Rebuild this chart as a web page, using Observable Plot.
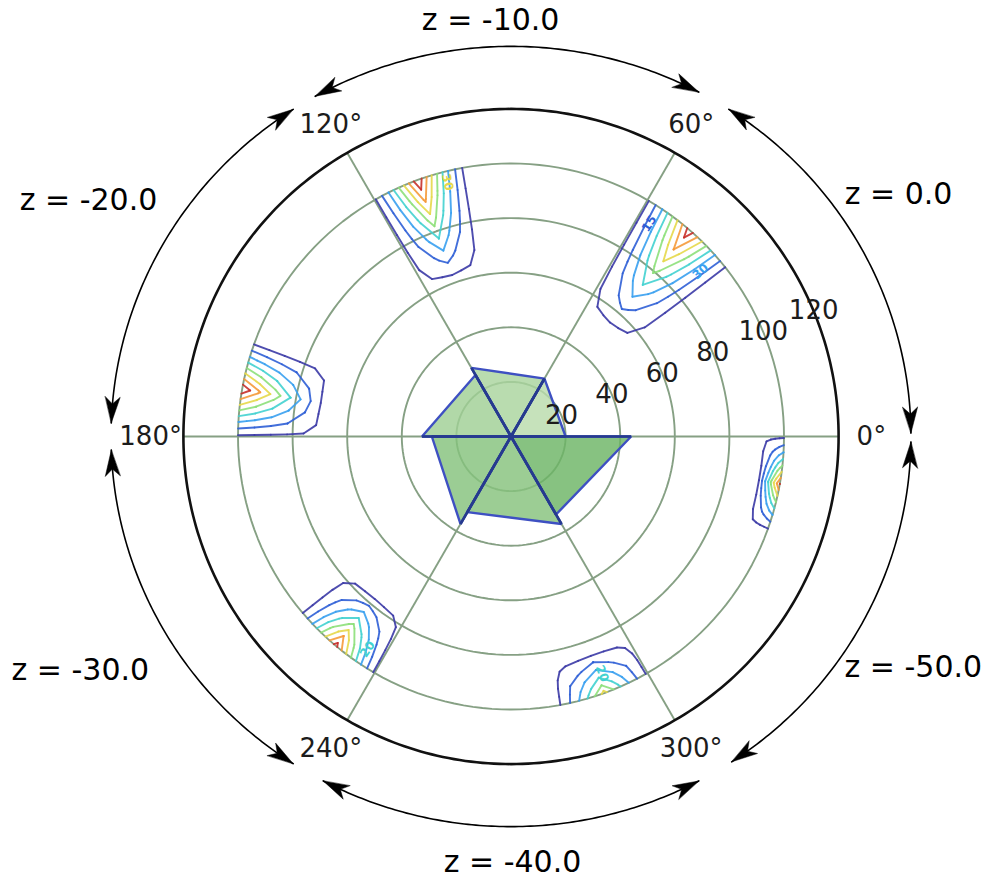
<!DOCTYPE html>
<html><head><meta charset="utf-8">
<script src="https://cdn.jsdelivr.net/npm/d3@7"></script>
<script src="https://cdn.jsdelivr.net/npm/@observablehq/plot@0.6"></script>
<style>
html,body{margin:0;padding:0;background:#fff;}
#chart{position:absolute;left:0;top:0;}
</style>
</head><body><div id="chart"></div>
<script>
// ---------------- data ----------------
const ringValues = [20, 40, 60, 80, 100];
const rMax = 120;
const thetaTicks = [0, 60, 120, 180, 240, 300];
const thetaTickLabels = ["0°", "60°", "120°", "180°", "240°", "300°"];
const rTickValues = [20, 40, 60, 80, 100, 120];
const rTickLabels = ["20", "40", "60", "80", "100", "120"];
const rLabelAngle = 22.5;
const thetaLabelRadius = 132;

// central filled sectors (triangles): radius at start / end angle of each 60° sector
const sectorStart = [0, 60, 120, 180, 240, 300];
const sectorRStart = [20, 24.5, 26, 29, 32, 33];
const sectorREnd = [24.5, 29, 32.6, 37, 37, 44];
const sectorFill = ["#b9dcac", "#a9d49e", "#a0d095", "#85c27c", "#86c27d", "#6db565"];

// z annotations around the plot
const zLabels = ["z = 0.0", "z = -10.0", "z = -20.0", "z = -30.0", "z = -40.0", "z = -50.0"];
const zLabelAngle = [32, 92.8, 150.8, 208.5, 270.2, 330.1];
const zLabelRadius = [167.4, 152.6, 177.3, 179.5, 156, 170];
const arcStart = [0.5, 62, 123, 182, 242, 303.5];
const arcEnd = [57, 119.3, 178, 237, 298, 359.2];
const arcRx = 146.5, arcRy = 142.9;

// contour panels (value grids: rows inner→outer radius, columns along theta)
const contourLevels = [5, 10, 15, 20, 25, 30, 35, 40];
const contourColors = ["#3b3aa6", "#2f5fd6", "#38a0f0", "#42d2d0", "#8de07a", "#e6d84a", "#f59a3a", "#c8302a"];
const panelTheta = [[38, 60], [100, 120], [160, 180], [340, 360], [220, 240], [280, 300]];
const panelR = [[54, 100], [62, 100], [70, 100], [92, 100], [77, 100], [85, 100]];
const panelGrids = [
  [[4,4,4,4,4,4,4],[4,7,9,11,9,7,4],[4,9,14,19,14,9,4],[4,11,19,27,19,11,4],[4,13,24,35,24,13,4],[4,15,29,43,29,15,4]],
  [[4,4,4,4,4,4,4],[4,7,9,12,9,7,4],[4,9,14,20,14,9,4],[4,11,19,28,19,11,4],[4,13,24,36,24,13,4],[4,15,29,44,29,15,4]],
  [[4,4,4,4,4,4,4],[4,8,10,12,10,8,4],[4,10,15,20,15,10,4],[4,12,20,28,20,12,4],[4,14,25,36,25,14,4],[4,16,30,44,30,16,4]],
  [[4,4,4,4,4,4,4],[4,7,9,11,9,7,4],[4,9,13,18,13,9,4],[4,11,18,26,18,11,4],[4,13,23,33,23,13,4],[4,15,27,40,27,15,4]],
  [[4,4,4,4,4,4,4],[4,7,9,11,9,7,4],[4,9,14,19,14,9,4],[4,11,19,27,19,11,4],[4,13,24,35,24,13,4],[4,15,28,42,28,15,4]],
  [[4,4,4,4,4,4,4],[4,6,8,10,8,6,4],[4,8,11,15,11,8,4],[4,10,15,20,15,10,4],[4,11,18,25,18,11,4],[4,12,21,32,21,12,4]]
];
// inline contour labels
const clabelText = ["15", "30", "30", "20", "20"];
const clabelLevel = [10, 15, 30, 20, 20];
const clabelTheta = [57, 41, 104, 236, 291];
const clabelR = [93, 92, 96, 94, 93];

// ---------------- layout constants ----------------
const W = 984, H = 881, CX = 510.5, CY = 436, K = 2.73;
const rad = d => d * Math.PI / 180;
const pol = (deg, r) => ({x: r * Math.cos(rad(deg)), y: r * Math.sin(rad(deg))});
const readable = a => { a = ((a % 360) + 360) % 360; if (a > 180) a -= 360; if (a > 90) a -= 180; if (a < -90) a += 180; return a; };

// rings and spokes
const ringPts = ringValues.flatMap(v => d3.range(0, 361, 2).map(a => ({ring: v, ...pol(a, v)})));
const outerPts = d3.range(0, 361, 1).map(a => pol(a, rMax));
const spokes = thetaTicks.map(t => ({x1: 0, y1: 0, x2: pol(t, rMax).x, y2: pol(t, rMax).y}));

// sectors
const sectors = sectorStart.map((s, i) => [ {x: 0, y: 0}, pol(s, sectorRStart[i]), pol(s + 60, sectorREnd[i]) ]);
const radialEdges = sectorStart.flatMap((s, i) => [
  {x2: pol(s, sectorRStart[i]).x, y2: pol(s, sectorRStart[i]).y},
  {x2: pol(s + 60, sectorREnd[i]).x, y2: pol(s + 60, sectorREnd[i]).y}
]);

// arcs + arrowheads
const arcs = zLabels.map((lab, i) => d3.range(0, 101).map(k => {
  const a = rad(arcStart[i] + (arcEnd[i] - arcStart[i]) * k / 100);
  return {arc: i, x: arcRx * Math.cos(a), y: arcRy * Math.sin(a)};
}));
const headL = 26 / K, headW = 7.5 / K, headN = 7 / K;
function head(tip, prev, id) {
  let ux = tip.x - prev.x, uy = tip.y - prev.y; const n = Math.hypot(ux, uy); ux /= n; uy /= n;
  const nx = -uy, ny = ux;
  return [
    {id, x: tip.x, y: tip.y},
    {id, x: tip.x - headL * ux + headW * nx, y: tip.y - headL * uy + headW * ny},
    {id, x: tip.x - (headL - headN) * ux, y: tip.y - (headL - headN) * uy},
    {id, x: tip.x - headL * ux - headW * nx, y: tip.y - headL * uy - headW * ny}
  ];
}
const heads = arcs.flatMap((pts, i) => [
  ...head(pts[0], pts[4], "s" + i),
  ...head(pts[pts.length - 1], pts[pts.length - 5], "e" + i)
]);

// marching squares contour segments
function contourSegments(grid, th, rr, levels) {
  const nr = grid.length, nc = grid[0].length, segs = [];
  const toXY = (c, rw) => pol(th[0] + c / (nc - 1) * (th[1] - th[0]), rr[0] + rw / (nr - 1) * (rr[1] - rr[0]));
  for (const lv of levels) for (let j = 0; j < nr - 1; j++) for (let i = 0; i < nc - 1; i++) {
    const v00 = grid[j][i], v10 = grid[j][i + 1], v01 = grid[j + 1][i], v11 = grid[j + 1][i + 1];
    const pts = [];
    const edge = (a, b, pa, pb) => { if ((a < lv) !== (b < lv)) { const f = (lv - a) / (b - a); pts.push([pa[0] + f * (pb[0] - pa[0]), pa[1] + f * (pb[1] - pa[1])]); } };
    edge(v00, v10, [i, j], [i + 1, j]);
    edge(v10, v11, [i + 1, j], [i + 1, j + 1]);
    edge(v11, v01, [i + 1, j + 1], [i, j + 1]);
    edge(v01, v00, [i, j + 1], [i, j]);
    for (let k = 0; k + 1 < pts.length; k += 2) {
      const a = toXY(...pts[k]), b = toXY(...pts[k + 1]);
      segs.push({level: lv, x1: a.x, y1: a.y, x2: b.x, y2: b.y});
    }
  }
  return segs;
}
const contourSegs = panelGrids.flatMap((g, p) => contourSegments(g, panelTheta[p], panelR[p], contourLevels));
const clabels = clabelText.map((t, i) => ({label: t, level: clabelLevel[i], rot: readable(-clabelTheta[i]), ...pol(clabelTheta[i], clabelR[i])}));

const thetaLabelData = thetaTicks.map((t, i) => ({label: thetaTickLabels[i], ...pol(t, thetaLabelRadius)}));
const rLabelData = rTickValues.map((v, i) => ({label: rTickLabels[i], ...pol(rLabelAngle, v)}));
const zLabelData = zLabels.map((l, i) => ({label: l, ...pol(zLabelAngle[i], zLabelRadius[i])}));

const gridColor = "#86a084";
const chart = Plot.plot({
  width: W, height: H, margin: 0,
  x: {domain: [-CX / K, (W - CX) / K], range: [0, W], axis: null},
  y: {domain: [-(H - CY) / K, CY / K], range: [H, 0], axis: null},
  color: {type: "ordinal", domain: contourLevels, range: contourColors},
  style: {fontFamily: "DejaVu Sans", background: "#fff", overflow: "visible"},
  marks: [
    Plot.line(ringPts, {x: "x", y: "y", z: "ring", stroke: gridColor, strokeWidth: 1.9}),
    Plot.link(spokes, {x1: "x1", y1: "y1", x2: "x2", y2: "y2", stroke: gridColor, strokeWidth: 1.9}),
    ...sectors.map((pts, i) => Plot.line(pts, {x: "x", y: "y", curve: "linear-closed", fill: sectorFill[i], fillOpacity: 0.82, stroke: "none"})),
    ...sectors.map((pts, i) => Plot.line(pts, {x: "x", y: "y", curve: "linear-closed", stroke: "#3e50c2", strokeWidth: 2.4, strokeLinejoin: "miter"})),
    Plot.link(radialEdges, {x1: 0, y1: 0, x2: "x2", y2: "y2", stroke: "#263a8e", strokeWidth: 2.6}),
    Plot.line(outerPts, {x: "x", y: "y", stroke: "#111", strokeWidth: 2.6}),
    Plot.link(contourSegs, {x1: "x1", y1: "y1", x2: "x2", y2: "y2", stroke: "level", strokeWidth: 1.9, strokeLinecap: "round", strokeOpacity: 0.9}),
    Plot.text(clabels, {x: "x", y: "y", text: "label", fill: "level", rotate: "rot", fontSize: 12, fontWeight: "bold", textAnchor: "middle", lineAnchor: "middle"}),
    Plot.text(rLabelData, {x: "x", y: "y", text: "label", fontSize: 26, fill: "#1c1c1c", textAnchor: "middle", lineAnchor: "middle"}),
    Plot.text(thetaLabelData, {x: "x", y: "y", text: "label", fontSize: 26, fill: "#1c1c1c", textAnchor: "middle", lineAnchor: "middle"}),
    ...arcs.map(pts => Plot.line(pts, {x: "x", y: "y", stroke: "#000", strokeWidth: 1.6})),
    Plot.line(heads, {x: "x", y: "y", z: "id", curve: "linear-closed", fill: "#000", stroke: "#000", strokeWidth: 0.5}),
    Plot.text(zLabelData, {x: "x", y: "y", text: "label", fontSize: 30, fill: "#000", textAnchor: "middle", lineAnchor: "middle"})
  ]
});
document.getElementById("chart").appendChild(chart);
</script>
</body></html>
